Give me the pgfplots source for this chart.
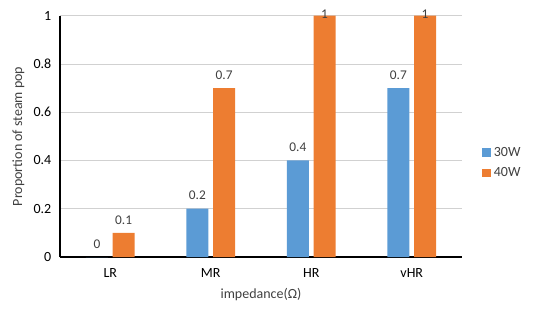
\documentclass[border=0pt]{standalone}
\usepackage{pgfplots}
\pgfplotsset{compat=1.18}
\usepackage{fontspec}
\setmainfont{Carlito}
\definecolor{blueS}{HTML}{5B9BD5}
\definecolor{orangeS}{HTML}{ED7D31}
\definecolor{txt}{HTML}{404040}
\begin{document}
\begin{tikzpicture}
\path[use as bounding box] (-45pt,-40.5pt) rectangle (357pt,192.75pt);
\begin{axis}[
  scale only axis,
  width=301.5pt, height=181pt,
  ybar, bar width=16.5pt,
  xmin=-0.5, xmax=3.5,
  ymin=0, ymax=1,
  ytick={0,0.2,0.4,0.6,0.8,1},
  xtick=data,
  xticklabels={LR,MR,HR,vHR},
  axis x line*=bottom, axis y line*=left,
  axis line style={black, line width=1.3pt, -},
  major tick length=0pt,
  ymajorgrids, grid style={black!18, line width=0.6pt},
  /pgf/number format/assume math mode=true,
  tick label style={font=\fontsize{10.5}{12}\selectfont, text=black},
  xticklabel style={yshift=-5pt},
  yticklabel style={xshift=-3pt},
  xlabel={impedance(Ω)}, ylabel={Proportion of steam pop},
  label style={font=\fontsize{10.5}{12}\selectfont, text=txt},
  xlabel style={yshift=-1pt},
  nodes near coords,
  nodes near coords style={font=\fontsize{10}{11}\selectfont, text=txt, yshift=3pt},
  coordinate style/.condition={y>0.99}{yshift=-9pt},
  legend style={at={(1.04,0.39)}, anchor=west, draw=none,
    font=\fontsize{10.5}{12}\selectfont, text=txt, row sep=3pt},
  legend image code/.code={\fill[#1] (0pt,-3.3pt) rectangle (6.6pt,3.3pt);},
  clip=false,
]
\addplot[fill=blueS, draw=none, bar shift=-10pt] coordinates
  {(0,0) (1,0.2) (2,0.4) (3,0.7)};
\addplot[fill=orangeS, draw=none, bar shift=10pt] coordinates
  {(0,0.1) (1,0.7) (2,1) (3,1)};
\legend{30W,40W}
\end{axis}
\end{tikzpicture}
\end{document}
